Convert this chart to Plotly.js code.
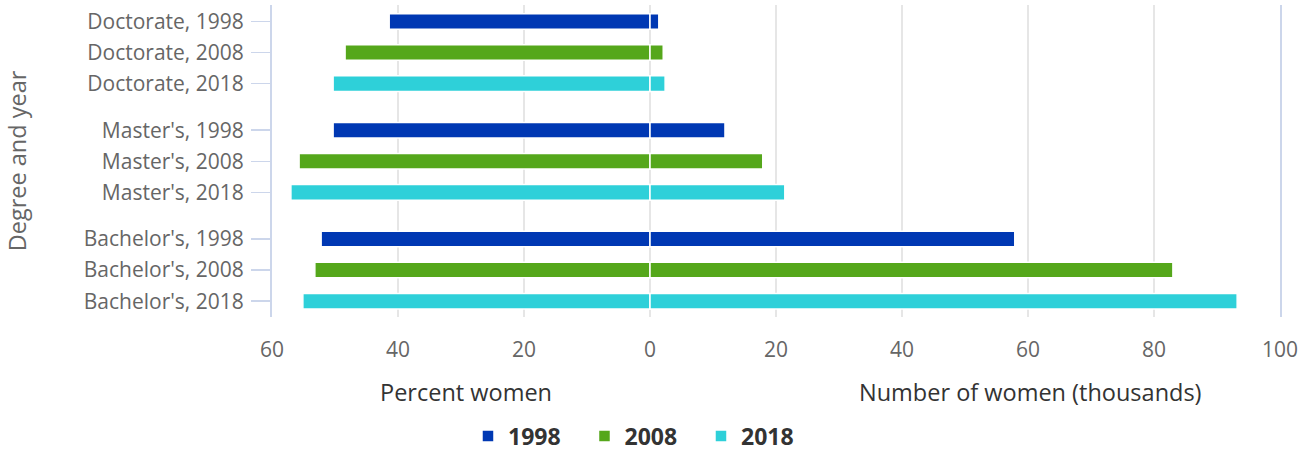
<!DOCTYPE html>
<html>
<head>
<meta charset="utf-8">
<script src="https://cdn.plot.ly/plotly-3.0.1.min.js"></script>
<style>
  html, body { margin: 0; padding: 0; background: #fff; }
  #chart { width: 1312px; height: 451px; }
</style>
</head>
<body>
<div id="chart"></div>
<script>
// degrees top to bottom, years within each degree
const degrees = ["Doctorate", "Master's", "Bachelor's"];
const years = ['1998', '2008', '2018'];
const colors = ['#0038b3', '#55a71b', '#2ed0d9'];

// percent women (drawn to the left)
const pct1998 = [41.4, 50.3, 52.2];
const pct2008 = [48.4, 55.7, 53.2];
const pct2018 = [50.3, 57.0, 55.1];

// number of women, thousands (drawn to the right)
const num1998 = [1.4, 11.9, 57.9];
const num2008 = [2.1, 17.9, 83.0];
const num2018 = [2.4, 21.4, 93.2];

const xTickVals = [-60, -40, -20, 0, 20, 40, 60, 80, 100];

const pctByYear = [pct1998, pct2008, pct2018];
const numByYear = [num1998, num2008, num2018];

// row position: a half row of space between the degree groups
function rowPos(d, y) {
  return d * 3.5 + y;
}

const tickVals = [];
const tickText = [];
degrees.forEach(function (deg, d) {
  years.forEach(function (yr, y) {
    tickVals.push(rowPos(d, y));
    tickText.push(deg + ', ' + yr);
  });
});

const traces = [];
years.forEach(function (yr, y) {
  const pos = degrees.map(function (deg, d) { return rowPos(d, y); });
  // left side: percent women, plotted as negative
  traces.push({
    type: 'bar',
    orientation: 'h',
    name: yr,
    legendgroup: yr,
    showlegend: false,
    y: pos,
    x: pctByYear[y].map(function (v) { return -v; }),
    width: 0.5,
    marker: { color: colors[y], line: { color: '#ffffff', width: 1.5 } },
    hoverinfo: 'skip'
  });
  // right side: number of women
  traces.push({
    type: 'bar',
    orientation: 'h',
    name: yr,
    legendgroup: yr,
    y: pos,
    x: numByYear[y],
    width: 0.5,
    marker: { color: colors[y], line: { color: '#ffffff', width: 1.5 } },
    hoverinfo: 'skip'
  });
});

const layout = {
  width: 1312,
  height: 451,
  margin: { l: 272, r: 32, t: 5, b: 134 },
  paper_bgcolor: '#ffffff',
  plot_bgcolor: '#ffffff',
  font: { family: 'Open Sans, sans-serif', size: 21, color: '#666666' },
  barmode: 'overlay',
  xaxis: {
    range: [-60, 100],
    tickvals: xTickVals,
    ticktext: xTickVals.map(function (v) { return String(Math.abs(v)); }),
    showgrid: true,
    gridcolor: '#e6e6e6',
    gridwidth: 1.5,
    zeroline: false,
    showline: false,
    ticks: '',
    ticklabelstandoff: 18,
    tickfont: { size: 21, color: '#666666' },
    fixedrange: true
  },
  yaxis: {
    range: [9.51, -0.53],
    tickvals: tickVals,
    ticktext: tickText,
    showgrid: false,
    zeroline: false,
    showline: true,
    mirror: true,
    linecolor: '#ccd6eb',
    linewidth: 2,
    ticks: 'outside',
    ticklen: 19,
    tickwidth: 1.5,
    tickcolor: '#ccd6eb',
    ticklabelstandoff: 3,
    tickfont: { size: 21, color: '#666666' },
    title: { text: 'Degree and year', font: { size: 23.5, color: '#666666' }, standoff: 51 },
    fixedrange: true
  },
  legend: {
    orientation: 'h',
    xref: 'container',
    yref: 'container',
    x: 0.3567,
    xanchor: 'left',
    y: 0.033,
    yanchor: 'middle',
    entrywidthmode: 'pixels',
    entrywidth: 71.5,
    font: { size: 23, color: '#333333', family: 'Open Sans, sans-serif', weight: 'bold' },
    itemclick: false,
    itemdoubleclick: false
  },
  annotations: [
    {
      text: 'Percent women',
      xref: 'paper', yref: 'paper',
      x: 0.1925, y: -0.24,
      xanchor: 'center', yanchor: 'middle',
      showarrow: false,
      font: { size: 23.5, color: '#333333' }
    },
    {
      text: 'Number of women (thousands)',
      xref: 'paper', yref: 'paper',
      x: 0.752, y: -0.24,
      xanchor: 'center', yanchor: 'middle',
      showarrow: false,
      font: { size: 23.5, color: '#333333' }
    }
  ]
};

Plotly.newPlot('chart', traces, layout, { displayModeBar: false, staticPlot: true });
</script>
</body>
</html>
